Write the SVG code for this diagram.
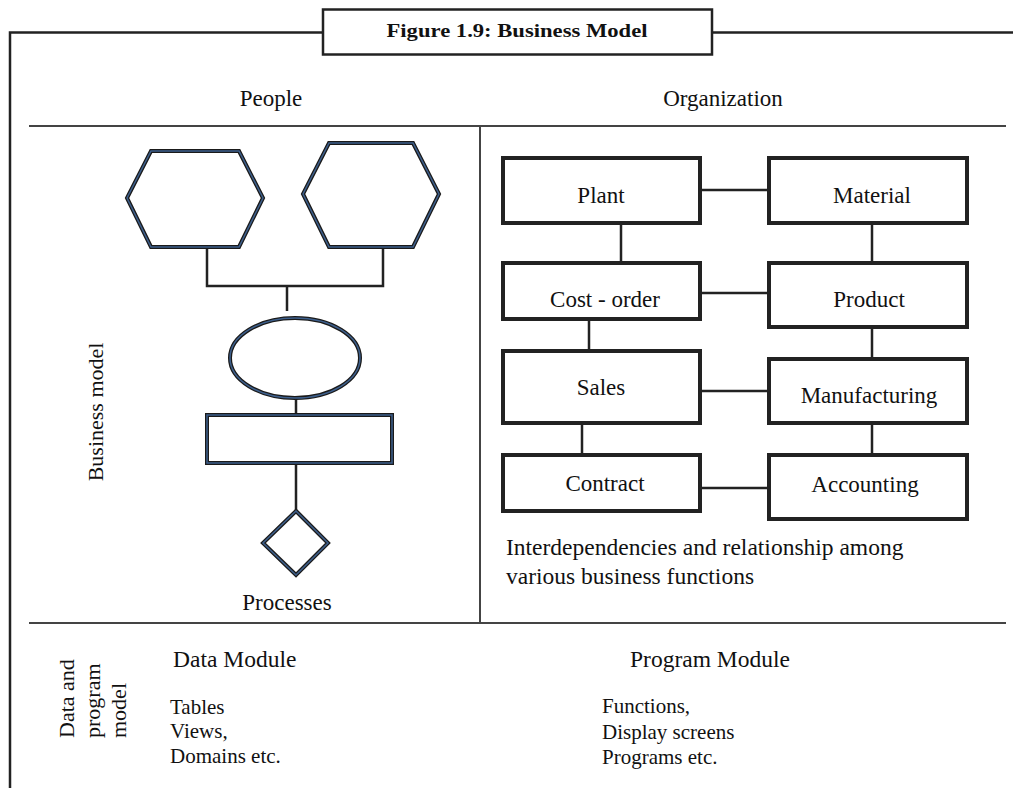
<svg xmlns="http://www.w3.org/2000/svg" width="1013" height="788" viewBox="0 0 1013 788">
<style>
  .frame{fill:none;stroke:#222;stroke-width:2.5}
  .div{fill:none;stroke:#444;stroke-width:2}
  .box{fill:#fff;stroke:#222;stroke-width:4}
  .con{fill:none;stroke:#222;stroke-width:2.5}
  .shpo{fill:#fff;stroke:#1a1a1a;stroke-width:4}
  .shpi{fill:none;stroke:#3d5f8c;stroke-width:1.5}
  text{font-family:"Liberation Serif","Times New Roman",serif;fill:#111}
  .lbl{font-size:23px;text-anchor:middle}
  .t{font-size:22px}
  .m{font-size:23.5px}
  .s{font-size:21px}
</style>
<rect width="1013" height="788" fill="#fff"/>
<g id="frame">
  <path class="frame" d="M10 788 V32.5 H323 M712 32.5 H1013"/>
  <line class="div" x1="29" y1="126" x2="1006" y2="126"/>
  <line class="div" x1="480" y1="126" x2="480" y2="623"/>
  <line class="div" x1="29" y1="623" x2="1006" y2="623"/>
</g>
<g id="title">
  <rect x="323" y="9.5" width="389" height="45" fill="#fff" stroke="#222" stroke-width="2.5"/>
  <text x="517" y="37" text-anchor="middle" font-size="19" font-weight="bold" textLength="261" lengthAdjust="spacingAndGlyphs">Figure 1.9: Business Model</text>
</g>
<g id="headings">
  <text class="lbl" x="271" y="106">People</text>
  <text class="lbl" x="723" y="106">Organization</text>
  <text class="lbl" x="287" y="610">Processes</text>
  <text class="t" transform="translate(103,412) rotate(-90)" text-anchor="middle">Business model</text>
  <text class="t" transform="translate(74,738) rotate(-90)" font-size="23">Data and</text>
  <text class="t" transform="translate(99.5,738) rotate(-90)" font-size="23">program</text>
  <text class="t" transform="translate(126,738) rotate(-90)" font-size="23">model</text>
</g>
<g id="connectors">
  <path class="con" d="M207 247 V286 H383 V247 M287 286 V311"/>
  <path class="con" d="M296 398 V415 M296 463 V511"/>
  <path class="con" d="M700 190 H769 M621 223 V263 M872 223 V263 M700 293 H769 M589 319 V351 M872 327 V359 M700 391 H769 M582 423 V455 M872 423 V455 M700 488 H769"/>
</g>
<g id="hex1">
  <polygon class="shpo" points="151,151 239,151 263,198 239,247 151,247 127,198"/>
  <polygon class="shpi" points="151,151 239,151 263,198 239,247 151,247 127,198"/>
</g>
<g id="hex2">
  <polygon class="shpo" points="329,143 413,143 439,194 413,247 329,247 303,194"/>
  <polygon class="shpi" points="329,143 413,143 439,194 413,247 329,247 303,194"/>
</g>
<g id="ellipse">
  <ellipse class="shpo" cx="295" cy="358" rx="65" ry="40"/>
  <ellipse class="shpi" cx="295" cy="358" rx="65" ry="40"/>
</g>
<g id="process-rect">
  <rect class="shpo" x="207" y="415" width="185" height="48"/>
  <rect class="shpi" x="207" y="415" width="185" height="48"/>
</g>
<g id="diamond">
  <polygon class="shpo" points="296,511 328,543 296,575 263,543"/>
  <polygon class="shpi" points="296,511 328,543 296,575 263,543"/>
</g>
<g id="plant"><rect class="box" x="503" y="158" width="197" height="65"/><text class="lbl" x="601" y="203">Plant</text></g>
<g id="material"><rect class="box" x="769" y="158" width="198" height="65"/><text class="lbl" x="872" y="203">Material</text></g>
<g id="cost-order"><rect class="box" x="503" y="263" width="197" height="56"/><text class="lbl" x="605" y="307">Cost - order</text></g>
<g id="product"><rect class="box" x="769" y="263" width="198" height="64"/><text class="lbl" x="869" y="307">Product</text></g>
<g id="sales"><rect class="box" x="503" y="351" width="197" height="72"/><text class="lbl" x="601" y="395">Sales</text></g>
<g id="manufacturing"><rect class="box" x="769" y="359" width="198" height="64"/><text class="lbl" x="869" y="403">Manufacturing</text></g>
<g id="contract"><rect class="box" x="503" y="455" width="197" height="56"/><text class="lbl" x="605" y="491">Contract</text></g>
<g id="accounting"><rect class="box" x="769" y="455" width="198" height="64"/><text class="lbl" x="865" y="492">Accounting</text></g>
<g id="note">
  <text class="m" x="506" y="555">Interdependencies and relationship among</text>
  <text class="m" x="506" y="584">various business functions</text>
</g>
<g id="data-module">
  <text class="m" x="173" y="667">Data Module</text>
  <text class="s" x="170" y="714">Tables</text>
  <text class="s" x="170" y="738">Views,</text>
  <text class="s" x="170" y="763">Domains etc.</text>
</g>
<g id="program-module">
  <text class="m" x="630" y="667">Program Module</text>
  <text class="s" x="602" y="713">Functions,</text>
  <text class="s" x="602" y="739">Display screens</text>
  <text class="s" x="602" y="764">Programs etc.</text>
</g>
</svg>
